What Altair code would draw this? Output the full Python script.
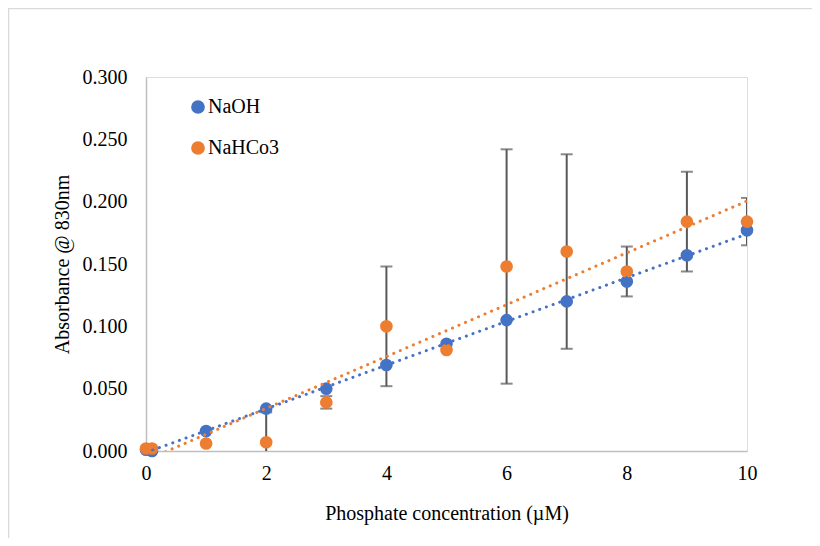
import altair as alt
import pandas as pd

# ---- data ----
conc = [0, 0.1, 1, 2, 3, 4, 5, 6, 7, 8, 9, 10]
naoh = [0.001, 0.000, 0.016, 0.034, 0.050, 0.069, 0.086, 0.105, 0.120, 0.136, 0.157, 0.177]
nahco3 = [0.002, 0.002, 0.006, 0.007, 0.039, 0.100, 0.081, 0.148, 0.160, 0.144, 0.184, 0.184]
nahco3_err = [0, 0, 0, 0.024, 0.005, 0.048, 0, 0.094, 0.078, 0.020, 0.040, 0.019]
series_names = ["NaOH", "NaHCo3"]
series_colors = ["#4472C4", "#ED7D31"]
x_ticks = [0, 2, 4, 6, 8, 10]
y_ticks = [0, 0.05, 0.10, 0.15, 0.20, 0.25, 0.30]

rows = []
for xv, a, b in zip(conc, naoh, nahco3):
    rows.append({"x": xv, "y": a, "series": "NaOH", "order": 0})
    rows.append({"x": xv, "y": b, "series": "NaHCo3", "order": 1})
df = pd.DataFrame(rows)

err_df = pd.DataFrame({
    "x": conc,
    "lo": [v - e for v, e in zip(nahco3, nahco3_err)],
    "hi": [v + e for v, e in zip(nahco3, nahco3_err)],
    "e": nahco3_err,
})
err_df = err_df[err_df["e"] > 0]

FONT = "Liberation Serif"
W, H = 601, 374

xscale = alt.Scale(domain=[0, 10], nice=False, zero=False)
yscale = alt.Scale(domain=[0, 0.3], nice=False)
cscale = alt.Scale(domain=series_names, range=series_colors)

x_axis = alt.Axis(values=x_ticks, format="d", labelFlush=False, grid=False, ticks=False,
                  domainColor="#BFBFBF", domainWidth=1.5, labelFont=FONT, labelFontSize=20,
                  labelColor="#000", labelPadding=12, title="Phosphate concentration (µM)",
                  titleFont=FONT, titleFontSize=20, titleFontWeight="normal", titleColor="#000",
                  titlePadding=20)
y_axis = alt.Axis(values=y_ticks, format=".3f", labelFlush=False, grid=False, ticks=False,
                  domainColor="#BFBFBF", domainWidth=1.5, labelFont=FONT, labelFontSize=20,
                  labelColor="#000", labelPadding=19, title="Absorbance @ 830nm", titleFont=FONT,
                  titleFontSize=20, titleFontWeight="normal", titleColor="#000", titlePadding=10)

base = alt.Chart(df)

points = base.mark_circle(size=160, opacity=1).encode(
    x=alt.X("x:Q", scale=xscale, axis=x_axis),
    y=alt.Y("y:Q", scale=yscale, axis=y_axis),
    color=alt.Color("series:N", scale=cscale, sort=series_names,
                    legend=alt.Legend(title=None, orient="none", legendX=42, legendY=20,
                                      symbolType="circle", symbolSize=150, labelFont=FONT,
                                      labelFontSize=20, labelColor="#000", rowPadding=21,
                                      labelOffset=0, padding=0)),
    order=alt.Order("order:Q"),
)

trend = base.transform_regression("x", "y", groupby=["series"], method="linear",
                                  extent=[0, 10]).mark_line(
    strokeDash=[0.1, 7], strokeCap="round", strokeWidth=3, clip=True
).encode(
    x=alt.X("x:Q", scale=xscale),
    y=alt.Y("y:Q", scale=yscale),
    color=alt.Color("series:N", scale=cscale, legend=None),
)

err_base = alt.Chart(err_df)
err_rule = err_base.mark_rule(color="#595959", strokeWidth=2, clip=True).encode(
    x=alt.X("x:Q", scale=xscale),
    y=alt.Y("lo:Q", scale=yscale),
    y2="hi:Q",
)
cap_lo = err_base.mark_tick(color="#595959", thickness=2, size=12, orient="horizontal", clip=True).encode(
    x=alt.X("x:Q", scale=xscale),
    y=alt.Y("lo:Q", scale=yscale),
)
cap_hi = err_base.mark_tick(color="#595959", thickness=2, size=12, orient="horizontal", clip=True).encode(
    x=alt.X("x:Q", scale=xscale),
    y=alt.Y("hi:Q", scale=yscale),
)

# outer chart frame (left and top edges visible in the reference)
frame_left = alt.Chart(pd.DataFrame({"a": [0]})).mark_rule(color="#D9D9D9", strokeWidth=1.5).encode(
    x=alt.value(-137.5), y=alt.value(-68.5), y2=alt.value(H + 87))
frame_top = alt.Chart(pd.DataFrame({"a": [0]})).mark_rule(color="#D9D9D9", strokeWidth=1.5).encode(
    x=alt.value(-138), x2=alt.value(W + 65), y=alt.value(-68.5))

chart = alt.layer(frame_left, frame_top, err_rule, cap_lo, cap_hi, points, trend).properties(
    width=W, height=H,
    autosize=alt.AutoSizeParams(type="none"),
    padding={"left": 138, "top": 69, "right": 65, "bottom": 87},
).configure_view(stroke=None).configure(background="white")

chart.save("out.html", embed_options={"renderer": "svg", "actions": False})
